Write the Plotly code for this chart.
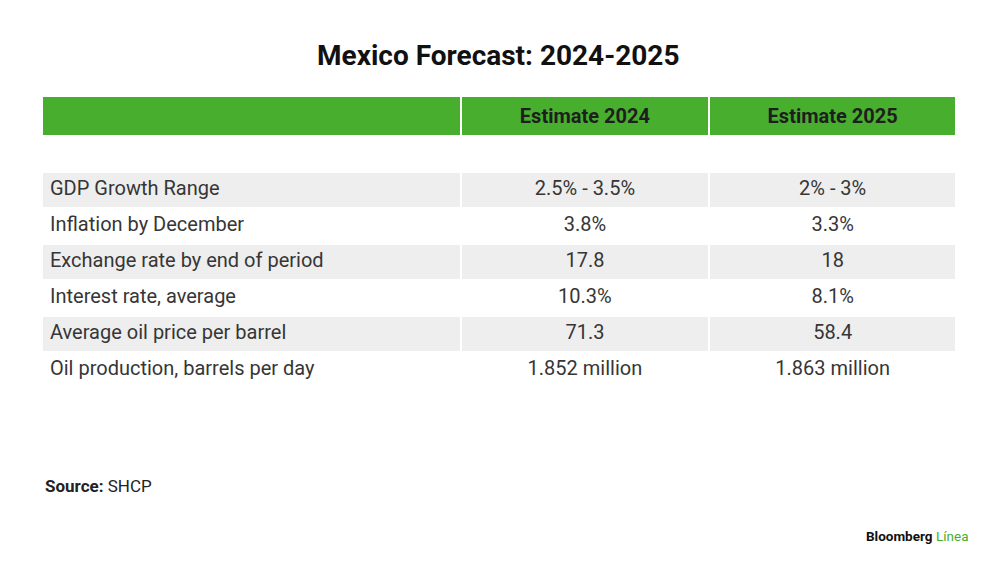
import plotly.graph_objects as go

# ---- data ----
title = "Mexico Forecast: 2024-2025"
columns = ["", "Estimate 2024", "Estimate 2025"]
indicators = [
    "GDP Growth Range",
    "Inflation by December",
    "Exchange rate by end of period",
    "Interest rate, average",
    "Average oil price per barrel",
    "Oil production, barrels per day",
]
estimate_2024 = ["2.5% - 3.5%", "3.8%", "17.8", "10.3%", "71.3", "1.852 million"]
estimate_2025 = ["2% - 3%", "3.3%", "18", "8.1%", "58.4", "1.863 million"]
source_label = "SHCP"

# ---- styling ----
W, H = 1000, 568
GREEN = "#48ae2e"
GRAY = "#eeeeee"
TEXT = "#363636"
FONT = "Roboto"

# spacer row between header and body, then alternating fills
col1 = [""] + indicators
col2 = [""] + estimate_2024
col3 = [""] + estimate_2025
row_fill = ["white"] + [GRAY if i % 2 == 0 else "white" for i in range(len(indicators))]

left, right = 42, 957
top = 96
row_h = 36
bottom = top + row_h * (len(col1) + 1) + 10

fig = go.Figure(
    go.Table(
        columnwidth=[419, 249, 247],
        domain=dict(x=[left / W, right / W], y=[1 - bottom / H, 1 - top / H]),
        header=dict(
            values=[f"<b>{c}</b>" for c in columns],
            fill_color=GREEN,
            line=dict(color="white", width=2),
            align="center",
            height=32,
            font=dict(family=FONT, size=20, color="#1e1e1e"),
        ),
        cells=dict(
            values=[col1, col2, col3],
            fill_color=[row_fill, row_fill, row_fill],
            line=dict(color="white", width=2),
            align=["left", "center", "center"],
            height=row_h,
            font=dict(family=FONT, size=20, color=TEXT),
        ),
    )
)

fig.update_layout(
    width=W,
    height=H,
    margin=dict(l=0, r=0, t=0, b=0),
    paper_bgcolor="white",
    plot_bgcolor="white",
    annotations=[
        dict(
            text=f"<b>{title}</b>",
            x=0.498, y=1 - 55 / H, xref="paper", yref="paper",
            xanchor="center", yanchor="middle", showarrow=False,
            font=dict(family=FONT, size=28, color="#111111"),
        ),
        dict(
            text=f"<b>Source:</b> {source_label}",
            x=43 / W, y=1 - 486 / H, xref="paper", yref="paper",
            xanchor="left", yanchor="middle", showarrow=False,
            font=dict(family=FONT, size=17, color="#222222"),
        ),
        dict(
            text=f"<b>Bloomberg</b> <span style='color:{GREEN}'>Línea</span>",
            x=970 / W, y=1 - 536 / H, xref="paper", yref="paper",
            xanchor="right", yanchor="middle", showarrow=False,
            font=dict(family=FONT, size=13.5, color="#111111"),
        ),
    ],
)

fig.write_html("out.html", config={"displayModeBar": False})

# remove the browser's default page margin so the figure sits at (0, 0)
with open("out.html", encoding="utf-8") as f:
    html = f.read()
html = html.replace("<head>", "<head><style>body{margin:0;}</style>", 1)
with open("out.html", "w", encoding="utf-8") as f:
    f.write(html)
